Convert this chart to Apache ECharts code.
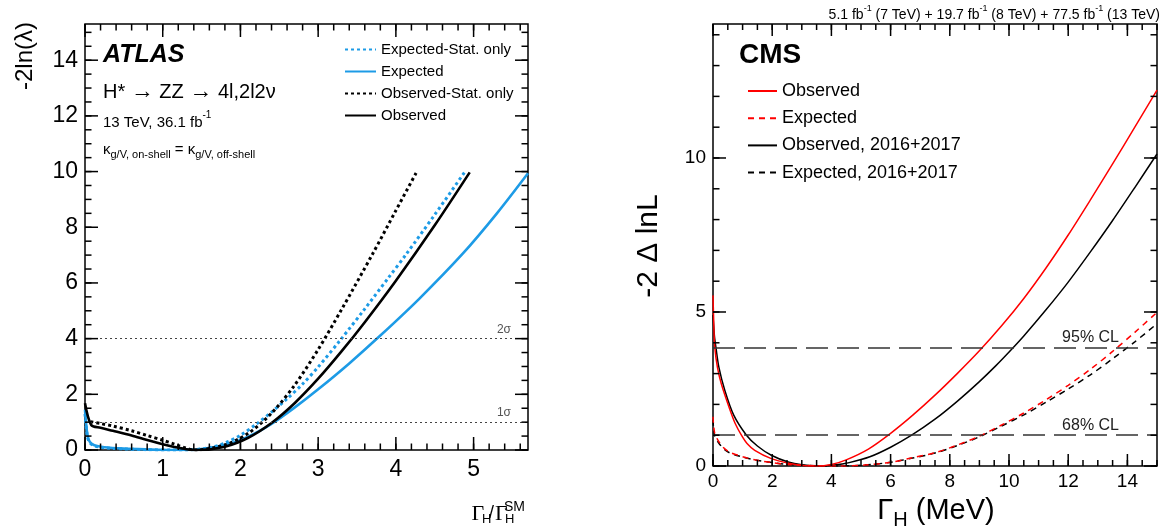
<!DOCTYPE html>
<html>
<head>
<meta charset="utf-8">
<script src="https://cdn.jsdelivr.net/npm/echarts@6/dist/echarts.min.js"></script>
<style>
html,body{margin:0;padding:0;background:#fff;}
#c{width:1162px;height:529px;}
</style>
</head>
<body>
<div id="c"></div>
<script>
// ---------- ATLAS panel data: [Gamma_H / Gamma_H^SM, -2 ln(lambda)] ----------
const atlasExpStat = [[0,1.3],[0.03,0.5],[0.06,0.27],[0.12,0.15],[0.25,0.08],[0.5,0.04],[0.8,0.01],[1.1,0.0],[1.3,0.0],[1.6,0.08],[1.8,0.25],[2.0,0.53],[2.2,0.92],[2.4,1.36],[2.6,1.84],[2.8,2.37],[3.0,2.98],[3.3,4.0],[3.6,5.07],[3.9,6.17],[4.13,7.02],[4.5,8.45],[4.89,10.0]];
const atlasExp = [[0,1.45],[0.03,0.55],[0.06,0.3],[0.12,0.17],[0.25,0.1],[0.5,0.05],[0.8,0.02],[1.1,0.0],[1.3,0.0],[1.8,0.18],[2.1,0.48],[2.4,0.94],[2.7,1.53],[3.0,2.18],[3.4,3.11],[3.8,4.11],[4.3,5.43],[4.86,7.05],[5.3,8.5],[5.7,9.94]];
const atlasObsStat = [[0.07,1.02],[0.2,0.95],[0.36,0.86],[0.6,0.69],[0.8,0.52],[1.0,0.35],[1.15,0.21],[1.3,0.07],[1.4,0.0],[1.8,0.18],[2.1,0.6],[2.4,1.32],[2.7,2.34],[3.0,3.61],[3.3,5.04],[3.7,7.04],[4.0,8.6],[4.26,9.95]];
const atlasObs = [[0,1.68],[0.08,0.9],[0.2,0.8],[0.36,0.69],[0.6,0.52],[0.8,0.36],[1.0,0.21],[1.15,0.11],[1.3,0.03],[1.45,0.0],[1.8,0.12],[2.1,0.44],[2.4,0.97],[2.7,1.69],[3.0,2.56],[3.3,3.54],[3.6,4.59],[4.0,6.08],[4.5,8.07],[4.95,9.97]];
const atlasNames = ['Expected-Stat. only','Expected','Observed-Stat. only','Observed'];
const atlasXTicks = [0,1,2,3,4,5];
const atlasYTicks = [0,2,4,6,8,10,12,14];
const atlasLevels = [1,4];
const atlasLevelLabels = ['1σ','2σ'];

// ---------- CMS panel data: [Gamma_H (MeV), -2 Delta lnL] ----------
const cmsObs = [[0,5.54],[0.03,4.5],[0.06,3.86],[0.15,3.2],[0.28,2.67],[0.56,1.86],[0.75,1.38],[0.96,1.0],[1.15,0.73],[1.41,0.51],[1.97,0.24],[2.59,0.08],[3.0,0.02],[3.5,0.0],[4.0,0.05],[4.5,0.2],[5.25,0.55],[6.0,1.06],[6.75,1.65],[7.5,2.3],[8.25,3.0],[9.0,3.74],[9.75,4.55],[10.5,5.44],[11.25,6.43],[12.0,7.5],[12.75,8.64],[13.5,9.81],[14.25,11.0],[15,12.2]];
const cmsExp = [[0,1.6],[0.05,1.1],[0.17,0.83],[0.35,0.6],[0.56,0.45],[1.0,0.3],[1.41,0.2],[2.0,0.11],[2.54,0.05],[3.2,0.015],[3.8,0.002],[4.3,0.0],[5.1,0.03],[6.0,0.12],[6.75,0.27],[7.5,0.43],[8.25,0.68],[9.0,0.97],[9.75,1.33],[10.5,1.72],[11.25,2.15],[12.0,2.62],[12.75,3.14],[13.5,3.72],[14.25,4.34],[15,4.99]];
const cmsObs1617 = [[0,4.9],[0.05,4.2],[0.1,3.84],[0.2,3.2],[0.4,2.45],[0.7,1.65],[1.13,1.0],[1.5,0.65],[1.97,0.35],[2.54,0.13],[3.0,0.04],[3.6,0.0],[4.1,0.03],[4.6,0.11],[5.3,0.3],[6.0,0.61],[6.71,1.0],[7.5,1.52],[8.25,2.1],[9.0,2.74],[9.55,3.25],[10.09,3.79],[10.5,4.22],[11.25,5.07],[12.0,5.97],[12.75,6.95],[13.5,7.97],[14.25,9.04],[15,10.13]];
const cmsExp1617 = [[0,1.5],[0.05,1.0],[0.17,0.78],[0.35,0.57],[0.56,0.43],[1.0,0.29],[1.41,0.2],[2.0,0.11],[2.54,0.05],[3.2,0.015],[3.8,0.002],[4.3,0.0],[5.1,0.03],[6.0,0.12],[6.75,0.26],[7.5,0.42],[8.25,0.66],[9.0,0.95],[9.75,1.3],[10.5,1.66],[11.25,2.07],[12.0,2.5],[12.75,2.96],[13.5,3.48],[14.25,4.03],[15,4.62]];
const cmsNames = ['Observed','Expected','Observed, 2016+2017','Expected, 2016+2017'];
const cmsXTicks = [0,2,4,6,8,10,12,14];
const cmsYTicks = [0,5,10];
const cmsLevels = [1,3.84];
const cmsLevelLabels = ['68% CL','95% CL'];

// ---------- styling ----------
const SANS = '"Liberation Sans", Arial, Helvetica, sans-serif';
const SERIF = '"Liberation Serif", "Times New Roman", serif';
const BLUE = '#1d9be6';
const RED = '#ff0000';
const ATLAS_ID = 'atlas|';
const CMS_ID = 'cms|';

const atlasCfg = {xMin: 0, xMax: 5.7, yMin: 0, yMax: 15.3, xMajor: 1, xMinor: 0.2, yMajor: 2, yMinor: 0.5,
  xMajLen: 13, xMinLen: 6.5, yMajLen: 13, yMinLen: 6.5};
const cmsCfg = {xMin: 0, xMax: 15, yMin: 0, yMax: 14.35, xMajor: 2, xMinor: 0.5, yMajor: 5, yMinor: 1,
  xMajLen: 12, xMinLen: 6, yMajLen: 13, yMinLen: 6.5};

const chart = echarts.init(document.getElementById('c'), null, {renderer: 'canvas'});

function fmt(ticks) {
  return function (v) {
    const r = Math.round(v * 1e6) / 1e6;
    return ticks.indexOf(r) >= 0 ? String(r) : '';
  };
}

// tick specs: [value, isMajor, side]  side: 0 bottom, 1 top, 2 left, 3 right
function tickSpecs(cfg) {
  const out = [];
  function add(max, step, major, sides) {
    for (let i = 0; i * step <= max + 1e-9; i++) {
      const v = Math.round(i * step * 1e6) / 1e6;
      sides.forEach(function (s) { out.push([v, major ? 1 : 0, s]); });
    }
  }
  add(cfg.xMax, cfg.xMinor, false, [0, 1]);
  add(cfg.xMax, cfg.xMajor, true, [0, 1]);
  add(cfg.yMax, cfg.yMinor, false, [2, 3]);
  add(cfg.yMax, cfg.yMajor, true, [2, 3]);
  return out;
}

function tickSeries(cfg, xi, yi) {
  return {
    type: 'custom', xAxisIndex: xi, yAxisIndex: yi, clip: false, silent: true, z: 10,
    data: tickSpecs(cfg),
    encode: {x: -1, y: -1},
    renderItem: function (params, api) {
      const v = api.value(0), major = api.value(1) === 1, side = api.value(2);
      const cs = params.coordSys;
      let x1, y1, x2, y2;
      if (side < 2) {
        const px = api.coord([v, cfg.yMin])[0];
        const len = major ? cfg.xMajLen : cfg.xMinLen;
        x1 = x2 = px;
        if (side === 0) { y1 = cs.y + cs.height; y2 = y1 - len; } else { y1 = cs.y; y2 = y1 + len; }
      } else {
        const py = api.coord([cfg.xMin, v])[1];
        const len = major ? cfg.yMajLen : cfg.yMinLen;
        y1 = y2 = py;
        if (side === 2) { x1 = cs.x; x2 = x1 + len; } else { x1 = cs.x + cs.width; x2 = x1 - len; }
      }
      return {type: 'line', shape: {x1: x1, y1: y1, x2: x2, y2: y2},
        style: {stroke: '#000', lineWidth: 1.5}};
    }
  };
}

function xAxisFor(gridIndex, cfg, ticks, fontSize, margin) {
  return {type: 'value', gridIndex: gridIndex, position: 'bottom', min: cfg.xMin, max: cfg.xMax, interval: cfg.xMajor,
    axisLine: {show: false}, axisTick: {show: false}, splitLine: {show: false},
    axisLabel: {formatter: fmt(ticks), fontSize: fontSize, fontFamily: SANS, color: '#000', margin: margin}};
}
function yAxisFor(gridIndex, cfg, ticks, fontSize, margin) {
  return {type: 'value', gridIndex: gridIndex, position: 'left', min: cfg.yMin, max: cfg.yMax, interval: cfg.yMajor,
    axisLine: {show: false}, axisTick: {show: false}, splitLine: {show: false},
    axisLabel: {formatter: fmt(ticks), fontSize: fontSize, fontFamily: SANS, color: '#000', margin: margin}};
}

function lineSeries(name, data, xi, yi, color, width, dash, z) {
  return {
    type: 'line', name: name, data: data, xAxisIndex: xi, yAxisIndex: yi,
    symbol: 'none', smooth: 0.3, clip: true, z: z || 2,
    lineStyle: {color: color, width: width, type: dash || 'solid'},
    itemStyle: {color: color},
    emphasis: {disabled: true}
  };
}

const sAtlasExpStat = lineSeries(ATLAS_ID + atlasNames[0], atlasExpStat, 0, 0, BLUE, 3, [3, 3]);
const sAtlasExp = lineSeries(ATLAS_ID + atlasNames[1], atlasExp, 0, 0, BLUE, 2.6);
const sAtlasObsStat = lineSeries(ATLAS_ID + atlasNames[2], atlasObsStat, 0, 0, '#000', 3, [3, 3]);
const sAtlasObs = lineSeries(ATLAS_ID + atlasNames[3], atlasObs, 0, 0, '#000', 2.6, null, 3);
sAtlasObs.markLine = {
  silent: true, symbol: 'none', animation: false,
  lineStyle: {color: '#444', width: 1.2, type: [2, 3]},
  label: {show: true, position: 'insideEndTop', formatter: '{b}', color: '#555', fontSize: 12,
    fontFamily: SANS, padding: [0, 14, 0, 0], distance: 3},
  data: atlasLevels.map(function (v, i) { return {yAxis: v, name: atlasLevelLabels[i]}; })
};

const sCmsObs1617 = lineSeries(CMS_ID + cmsNames[2], cmsObs1617, 1, 1, '#000', 1.5);
const sCmsExp1617 = lineSeries(CMS_ID + cmsNames[3], cmsExp1617, 1, 1, '#000', 1.5, [6, 5]);
const sCmsObs = lineSeries(CMS_ID + cmsNames[0], cmsObs, 1, 1, RED, 1.5, null, 3);
const sCmsExp = lineSeries(CMS_ID + cmsNames[1], cmsExp, 1, 1, RED, 1.5, [6, 5], 3);
sCmsObs1617.markLine = {
  silent: true, symbol: 'none', animation: false,
  lineStyle: {color: '#333', width: 1.6, type: [22, 9]},
  label: {show: true, position: 'insideEndTop', formatter: '{b}', color: '#222', fontSize: 16,
    fontFamily: SANS, padding: [0, 36, 0, 0], distance: 2},
  data: cmsLevels.map(function (v, i) { return {yAxis: v, name: cmsLevelLabels[i]}; })
};

function stripId(name) { return name.replace(/^(atlas|cms)\|/, ''); }

const option = {
  animation: false,
  backgroundColor: '#fff',
  grid: [
    {left: 85, top: 24, width: 443, height: 426, show: true, borderColor: '#000', borderWidth: 1.5,
      backgroundColor: 'rgba(0,0,0,0)'},
    {left: 713, top: 24, width: 444, height: 442, show: true, borderColor: '#000', borderWidth: 1.5,
      backgroundColor: 'rgba(0,0,0,0)'}
  ],
  xAxis: [xAxisFor(0, atlasCfg, atlasXTicks, 23, 8), xAxisFor(1, cmsCfg, cmsXTicks, 19, 6)],
  yAxis: [yAxisFor(0, atlasCfg, atlasYTicks, 23, 7), yAxisFor(1, cmsCfg, cmsYTicks, 19, 7)],
  legend: [
    {data: atlasNames.map(function (n) { return ATLAS_ID + n; }), formatter: stripId,
      left: 339, top: 37, orient: 'vertical', itemWidth: 31, itemHeight: 14, itemGap: 7,
      selectedMode: false, itemStyle: {opacity: 0, borderWidth: 0},
      textStyle: {fontSize: 15, fontFamily: SANS, color: '#000'}},
    {data: cmsNames.map(function (n) { return CMS_ID + n; }), formatter: stripId,
      left: 742, top: 77, orient: 'vertical', itemWidth: 29, itemHeight: 14, itemGap: 9.2,
      selectedMode: false, itemStyle: {opacity: 0, borderWidth: 0},
      textStyle: {fontSize: 18, fontFamily: SANS, color: '#000'}}
  ],
  series: [sAtlasExpStat, sAtlasExp, sAtlasObsStat, sAtlasObs, sCmsObs1617, sCmsExp1617, sCmsObs, sCmsExp,
    tickSeries(atlasCfg, 0, 0), tickSeries(cmsCfg, 1, 1)],
  graphic: [
    {type: 'text', x: 103, y: 55, silent: true, style: {text: 'ATLAS', fontSize: 25, fontWeight: 'bold', fontStyle: 'italic',
      fontFamily: SANS, fill: '#000', align: 'left', verticalAlign: 'middle'}},
    {type: 'text', x: 103, y: 92, silent: true, style: {text: '{t|H* }{a|→}{t| ZZ }{a|→}{t| 4l,2l2ν}', fill: '#000',
      align: 'left', verticalAlign: 'middle',
      rich: {t: {fontSize: 20, fontFamily: SANS, lineHeight: 24}, a: {fontSize: 23, fontFamily: SANS, lineHeight: 24}}}},
    {type: 'text', x: 103, y: 120, silent: true, style: {text: '{m|13 TeV, 36.1 fb}{s|-1}', fill: '#000',
      align: 'left', verticalAlign: 'middle',
      rich: {m: {fontSize: 15, fontFamily: SANS, lineHeight: 20, verticalAlign: 'bottom'},
             s: {fontSize: 10, fontFamily: SANS, lineHeight: 12, verticalAlign: 'top'}}}},
    {type: 'text', x: 103, y: 151, silent: true, style: {text: '{k|κ}{b|g/V, on-shell}{k| = κ}{b|g/V, off-shell}', fill: '#000',
      align: 'left', verticalAlign: 'middle',
      rich: {k: {fontSize: 15, fontFamily: SANS, lineHeight: 18, verticalAlign: 'top'},
             b: {fontSize: 11, fontFamily: SANS, lineHeight: 12, verticalAlign: 'bottom'}}}},
    {type: 'text', x: 25, y: 22, rotation: Math.PI / 2, silent: true, style: {text: '-2ln(λ)', fontSize: 24,
      fontFamily: SANS, fill: '#000', align: 'right', verticalAlign: 'middle'}},
    {type: 'text', x: 471.5, y: 514, silent: true, style: {text: 'Γ', fontSize: 22, fontFamily: SERIF, fill: '#000',
      align: 'left', verticalAlign: 'middle'}},
    {type: 'text', x: 482, y: 519.5, silent: true, style: {text: 'H', fontSize: 13, fontFamily: SANS, fill: '#000',
      align: 'left', verticalAlign: 'middle'}},
    {type: 'text', x: 489, y: 513, silent: true, style: {text: '/', fontSize: 18, fontFamily: SANS, fill: '#000',
      align: 'left', verticalAlign: 'middle'}},
    {type: 'text', x: 495, y: 514, silent: true, style: {text: 'Γ', fontSize: 22, fontFamily: SERIF, fill: '#000',
      align: 'left', verticalAlign: 'middle'}},
    {type: 'text', x: 504, y: 507.5, silent: true, style: {text: 'SM', fontSize: 14, fontFamily: SANS, fill: '#000',
      align: 'left', verticalAlign: 'middle'}},
    {type: 'text', x: 505, y: 519, silent: true, style: {text: 'H', fontSize: 13, fontFamily: SANS, fill: '#000',
      align: 'left', verticalAlign: 'middle'}},
    {type: 'text', x: 739, y: 55, silent: true, style: {text: 'CMS', fontSize: 28, fontWeight: 'bold',
      fontFamily: SANS, fill: '#000', align: 'left', verticalAlign: 'middle'}},
    {type: 'text', x: 1160, y: 13, silent: true, style: {
      text: '{m|5.1 fb}{s|-1}{m| (7 TeV) + 19.7 fb}{s|-1}{m| (8 TeV) + 77.5 fb}{s|-1}{m| (13 TeV)}', fill: '#000',
      align: 'right', verticalAlign: 'middle',
      rich: {m: {fontSize: 14, fontFamily: SANS, lineHeight: 18, verticalAlign: 'bottom'},
             s: {fontSize: 9, fontFamily: SANS, lineHeight: 10, verticalAlign: 'top'}}}},
    {type: 'text', x: 649, y: 246, rotation: Math.PI / 2, silent: true, style: {text: '-2 Δ lnL', fontSize: 30,
      fontFamily: SANS, fill: '#000', align: 'center', verticalAlign: 'middle'}},
    {type: 'text', x: 936, y: 513, silent: true, style: {text: '{m|Γ}{s|H}{m| (MeV)}', fill: '#000',
      align: 'center', verticalAlign: 'middle',
      rich: {m: {fontSize: 29, fontFamily: SANS, lineHeight: 34, verticalAlign: 'top'},
             s: {fontSize: 20, fontFamily: SANS, lineHeight: 22, verticalAlign: 'bottom'}}}}
  ]
};

chart.setOption(option);
</script>
</body>
</html>
